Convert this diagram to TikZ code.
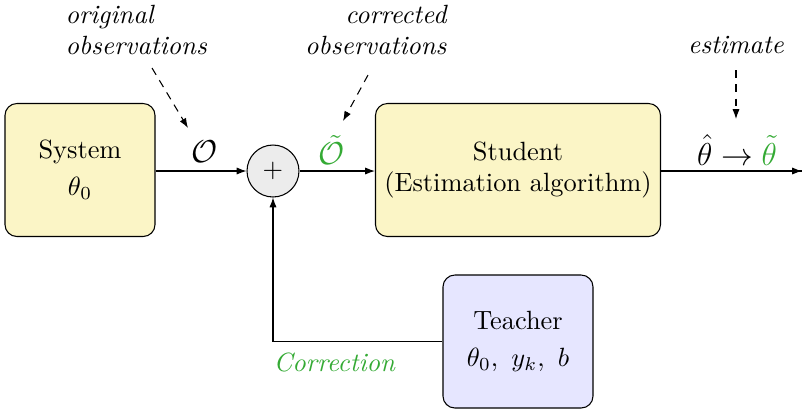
\documentclass[tikz,border=0pt]{standalone}
\usetikzlibrary{arrows.meta}
\definecolor{boxyellow}{RGB}{251,245,198}
\definecolor{boxblue}{RGB}{230,230,255}
\definecolor{sumgray}{RGB}{236,236,236}
\definecolor{corrgreen}{RGB}{52,170,52}
\begin{document}
\begin{tikzpicture}[x=0.379pt,y=-0.379pt,
  >={Latex[length=3.7pt,width=2.7pt]},
  block/.style={draw,rounded corners=4.5pt,align=center,minimum height=50.4pt},
  sumnode/.style={draw,circle,fill=sumgray,minimum size=19.7pt,inner sep=0pt},
  note/.style={font=\itshape,inner sep=0pt},
  pointer/.style={->,dashed,dash pattern=on 3pt off 2.4pt}]
  \useasboundingbox (0,0) rectangle (803,411);

  % blocks
  \node[block,fill=boxyellow,minimum width=56.85pt] (sys) at (80,170) {System\\[2pt]$\theta_0$};
  \node[sumnode] (sum) at (273,171) {$+$};
  \node[block,fill=boxyellow,minimum width=107.6pt] (stu) at (518,170) {Student\\(Estimation algorithm)};
  \node[block,fill=boxblue,minimum width=56.85pt] (tea) at (518,341.5) {Teacher\\[2pt]$\theta_0,\ y_k,\ b$};
  \coordinate (out) at (802,171);

  % signal flow
  \draw[->] (sys.east |- sum) -- (sum);
  \draw[->] (sum) -- (stu.west |- sum);
  \draw (stu.east |- out) -- (out);
  \draw[->] (out) ++(-1,0) -- (out);
  \draw[->] (tea.west) -| (sum.south);

  % signal labels
  \node[font=\large] (obs) at (205,152) {$\mathcal{O}$};
  \node[font=\large] (cobs) at (332,150) {$\color{corrgreen}\tilde{\mathcal{O}}$};
  \node[font=\large] (est) at (737,150) {$\hat{\theta}\rightarrow{\color{corrgreen}\tilde{\theta}}$};
  \node[note,text=corrgreen,anchor=west] (corr) at (273,362) {Correction};

  % annotations
  \node[note,align=left,anchor=west] (orignote) at (65,30) {original\\observations};
  \node[note,align=right,anchor=east] (corrnote) at (447,30) {corrected\\observations};
  \node[note] (estnote) at (736,45) {estimate};
  \coordinate (p1s) at (152,68);
  \coordinate (p1e) at (188,128);
  \coordinate (p2s) at (368,75);
  \coordinate (p2e) at (343,121);
  \coordinate (p3s) at (736,70);
  \coordinate (p3e) at (736,119);
  \draw[pointer] (p1s) -- (p1e);
  \draw[pointer] (p2s) -- (p2e);
  \draw[pointer] (p3s) -- (p3e);
\end{tikzpicture}
\end{document}
